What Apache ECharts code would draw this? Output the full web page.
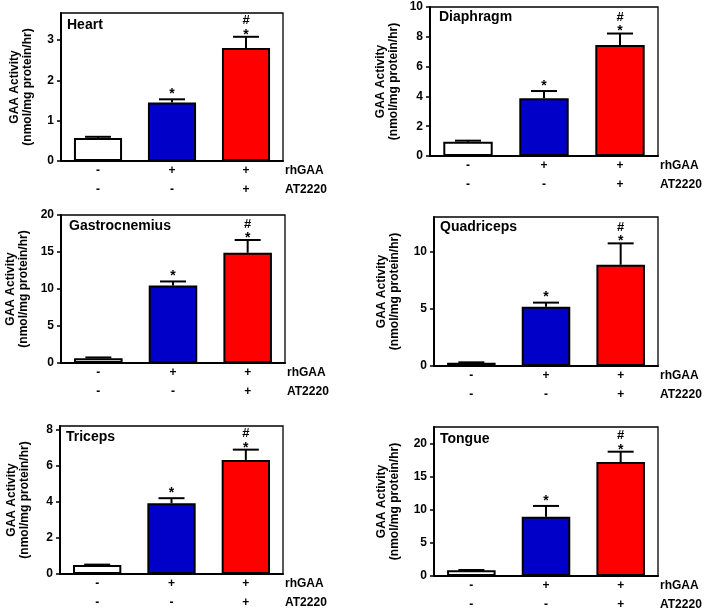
<!DOCTYPE html>
<html><head><meta charset="utf-8">
<script src="https://cdn.jsdelivr.net/npm/echarts@6/dist/echarts.min.js"></script>
<style>html,body{margin:0;padding:0;background:#fff}#c{width:704px;height:610px}</style>
</head><body><div id="c"></div>
<script>
// ---- data ----
const rhGAA = ['-', '+', '+'];
const AT2220 = ['-', '-', '+'];
const rowNames = ['rhGAA', 'AT2220'];
const panelTitles = ['Heart', 'Diaphragm', 'Gastrocnemius', 'Quadriceps', 'Triceps', 'Tongue'];
const heartMean = [0.57, 1.45, 2.80];
const heartSem = [0.03, 0.08, 0.28];
const diaphragmMean = [0.95, 3.88, 7.45];
const diaphragmSem = [0.08, 0.48, 0.77];
const gastrocMean = [0.65, 10.47, 14.9];
const gastrocSem = [0.10, 0.55, 1.72];
const quadMean = [0.29, 5.18, 8.83];
const quadSem = [0.03, 0.35, 1.87];
const tricepsMean = [0.50, 3.92, 6.32];
const tricepsSem = [0.02, 0.28, 0.57];
const tongueMean = [0.86, 8.96, 17.2];
const tongueSem = [0.05, 1.62, 1.57];
const yMax = [3.67, 10, 20, 13, 8.2, 22.5];
const yStep = [1, 2, 5, 5, 2, 5];
const yTicks = [[0,1,2,3],[0,2,4,6,8,10],[0,5,10,15,20],[0,5,10],[0,2,4,6,8],[0,5,10,15,20]];
const starMarks = ['', '*', '*'];
const hashMarks = ['', '', '#'];
const yTitle = 'GAA Activity\n(nmol/mg protein/hr)';

const means = [heartMean, diaphragmMean, gastrocMean, quadMean, tricepsMean, tongueMean];
const sems = [heartSem, diaphragmSem, gastrocSem, quadSem, tricepsSem, tongueSem];

// ---- layout / style ----
const FONT = '"Liberation Sans", Arial, sans-serif';
const barColors = ['#ffffff', '#0000c8', '#ff0000'];
const grids = [
  {left: 61, top: 13, width: 222, height: 148},
  {left: 430, top: 7, width: 228, height: 149},
  {left: 61, top: 215, width: 224, height: 148},
  {left: 434, top: 217, width: 224, height: 149},
  {left: 60, top: 426, width: 223, height: 148},
  {left: 434, top: 427, width: 224, height: 149}
];
const nameGaps = [27, 30, 31, 33, 29, 33];
const titlePos = [[67, 18], [439, 10], [69, 219], [440, 220], [66, 430], [440, 432]];

const cats = rhGAA.map((v, i) => v + '\n' + AT2220[i]);

const option = {
  animation: false,
  backgroundColor: '#fff',
  title: panelTitles.map((t, k) => ({
    text: t, left: titlePos[k][0], top: titlePos[k][1], padding: 0,
    textStyle: {fontFamily: FONT, fontWeight: 'bold', fontSize: 14, color: '#000'}
  })),
  grid: grids.map(g => Object.assign({
    show: true, borderColor: '#000', borderWidth: 1.3, backgroundColor: 'transparent',
    containLabel: false, outerBoundsMode: 'none'
  }, g)),
  xAxis: grids.map((g, k) => ({
    type: 'category', gridIndex: k, data: cats,
    axisLine: {show: true, lineStyle: {color: '#000', width: 2}},
    axisTick: {show: false},
    axisLabel: {color: '#000', fontFamily: FONT, fontWeight: 'bold', fontSize: 12, lineHeight: 19, margin: 0},
    name: rowNames.join('\n'), nameLocation: 'end', nameGap: 2,
    nameTextStyle: {color: '#000', fontFamily: FONT, fontWeight: 'bold', fontSize: 12, lineHeight: 19,
      align: 'left', verticalAlign: 'top', padding: [0, 0, 0, 0]}
  })),
  yAxis: grids.map((g, k) => ({
    type: 'value', gridIndex: k, min: 0, max: yMax[k], interval: yStep[k],
    splitLine: {show: false},
    axisLine: {show: true, lineStyle: {color: '#000', width: 2}},
    axisTick: {show: true, length: 4, lineStyle: {color: '#000', width: 1.5}, customValues: yTicks[k]},
    axisLabel: {color: '#000', fontFamily: FONT, fontWeight: 'bold', fontSize: 12, margin: 7, customValues: yTicks[k]},
    name: yTitle, nameLocation: 'middle', nameGap: nameGaps[k],
    nameTextStyle: {color: '#000', fontFamily: FONT, fontWeight: 'bold', fontSize: 12, lineHeight: 13}
  })),
  series: []
};

means.forEach((m, k) => {
  option.series.push({
    type: 'bar', xAxisIndex: k, yAxisIndex: k, barWidth: '65%',
    data: m.map((v, i) => ({value: v, itemStyle: {color: barColors[i]}})),
    itemStyle: {borderColor: '#000', borderWidth: 2},
    z: 2
  });
  option.series.push({
    type: 'custom', xAxisIndex: k, yAxisIndex: k, z: 3,
    encode: {x: 0, y: 1},
    data: m.map((v, i) => [i, v, sems[k][i]]),
    renderItem: function (params, api) {
      const i = api.value(0), v = api.value(1), e = api.value(2);
      const base = api.coord([i, v]);
      const top = api.coord([i, v + e]);
      const children = [
        {type: 'line', shape: {x1: base[0], y1: base[1], x2: top[0], y2: top[1]}, style: {stroke: '#000', lineWidth: 2}},
        {type: 'line', shape: {x1: top[0] - 13, y1: top[1], x2: top[0] + 13, y2: top[1]}, style: {stroke: '#000', lineWidth: 2}}
      ];
      const star = starMarks[i], hash = hashMarks[i];
      const starOff = hash ? 2 : 5;
      if (star) {
        children.push({type: 'text', style: {text: star, x: top[0], y: top[1] - starOff, align: 'center', verticalAlign: 'middle',
          font: 'bold 14px ' + FONT, fill: '#000'}});
      }
      if (hash) {
        children.push({type: 'text', style: {text: hash, x: top[0], y: top[1] - 16, align: 'center', verticalAlign: 'middle',
          font: 'bold 13px ' + FONT, fill: '#000'}});
      }
      return {type: 'group', children: children};
    }
  });
});

const chart = echarts.init(document.getElementById('c'), null, {renderer: 'canvas'});
chart.setOption(option);
</script>
</body></html>
